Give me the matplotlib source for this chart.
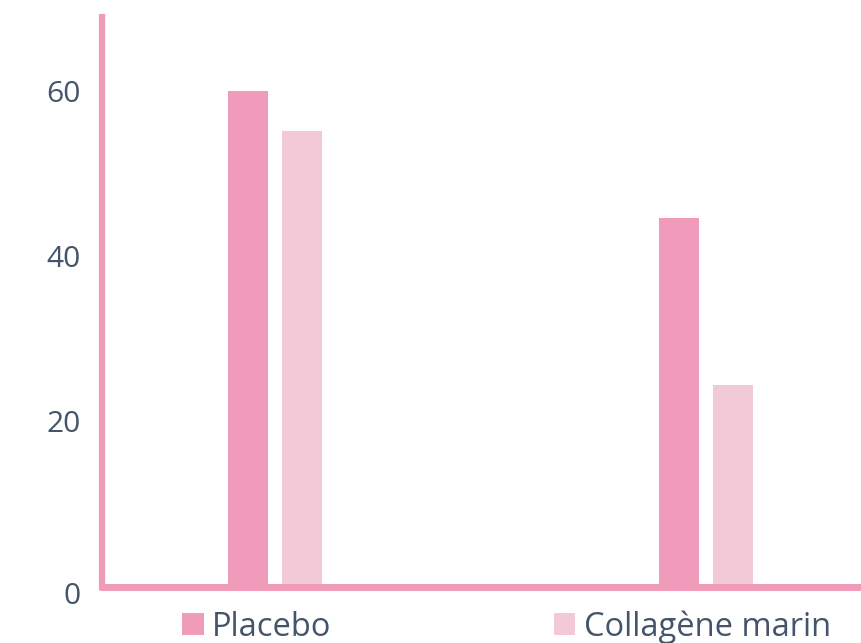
import numpy as np
import matplotlib.pyplot as plt
from matplotlib.patches import Patch
from matplotlib.transforms import ScaledTranslation

groups = ['Groupe 1', 'Groupe 2']
series = ['Placebo', 'Collagène marin']
placebo = [60, 44.7]
collagene = [55.2, 24.4]

pink = '#F09BB9'
light_pink = '#F2C9D6'
text_col = '#44546A'

plt.rcParams['font.family'] = ['Open Sans', 'DejaVu Sans']

W, H = 862, 643
fig = plt.figure(figsize=(W / 100, H / 100), dpi=100)
ax = fig.add_axes([102.5 / W, (H - 586.5) / H, (W - 102.5) / W, (586.5 - 17) / H])

x = np.arange(len(groups))
width = 0.0926
off = 0.0625
ax.bar(x - off, placebo, width, color=pink, zorder=2)
ax.bar(x + off, collagene, width, color=light_pink, zorder=2)

ax.set_xlim(-0.399, 1.361)
ax.set_ylim(0, 69)
ax.set_yticks([0, 20, 40, 60])
ax.set_xticks([])
ax.tick_params(axis='y', length=0, pad=16, labelsize=21.5, labelcolor=text_col)

# the zero label sits a little lower in the original
zero_lab = ax.get_yticklabels()[0]
zero_lab.set_transform(zero_lab.get_transform() + ScaledTranslation(0, -6 / 100, fig.dpi_scale_trans))

for s in ['top', 'right']:
    ax.spines[s].set_visible(False)
ax.spines['left'].set_color(pink)
ax.spines['left'].set_linewidth(4.5)
ax.spines['bottom'].set_color(pink)
ax.spines['bottom'].set_linewidth(5)
ax.spines['bottom'].set_zorder(3)

handles = [Patch(facecolor=pink, edgecolor='none'), Patch(facecolor=light_pink, edgecolor='none')]
fig.legend(handles, series, loc='center', bbox_to_anchor=(506.5 / W, (H - 627) / H),
           ncol=2, frameon=False, fontsize=23.5, labelcolor=text_col,
           handlelength=0.67, handleheight=0.67, handletextpad=0.25, columnspacing=6.8,
           borderpad=0)

fig.savefig('out.png', dpi=100)
